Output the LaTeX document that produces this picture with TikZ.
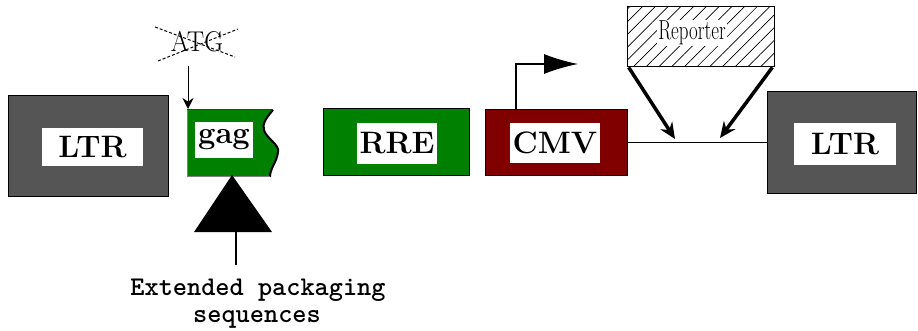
\documentclass[tikz,border=0pt]{standalone}
\usetikzlibrary{arrows.meta,patterns.meta}
\definecolor{ltrgray}{HTML}{555555}
\definecolor{gagreen}{HTML}{008000}
\definecolor{cmvred}{HTML}{800000}
\begin{document}
\begin{tikzpicture}[x=1pt,y=-1pt,
  blk/.style={draw=black, line width=1pt, inner sep=0pt},
  lbl/.style={fill=white, inner sep=0pt, font=\fontsize{31}{31}\selectfont\bfseries},
  thickarrow/.style={line width=3.5pt, -{Stealth[length=16pt,width=14pt]}},
  exttext/.style={font=\fontsize{27}{27}\selectfont\ttfamily\bfseries, anchor=base, inner sep=0pt},
]
\useasboundingbox (0,0) rectangle (918,331);
% left LTR
\node[blk, fill=ltrgray, minimum width=160pt, minimum height=101pt] (ltrL) at (88,146) {};
\node[lbl, minimum width=101pt, minimum height=38pt] (ltrLt) at (92.5,147) {LTR};
% gag
\fill[gagreen] (187,110) -- (273,110) .. controls (266,118) and (262,124) .. (264,130)
  .. controls (266,138) and (280,145) .. (278,152) .. controls (277,162) and (270,168) .. (270,177)
  -- (187,177) -- cycle;
\draw[line width=2pt] (273,110) .. controls (266,118) and (262,124) .. (264,130)
  .. controls (266,138) and (280,145) .. (278,152) .. controls (277,162) and (270,168) .. (270,177);
\draw[gagreen!70!black, line width=1pt] (187,110) -- (273,110);
\draw[black!50, line width=1pt] (187,110) -- (187,177) -- (270,177);
\node[lbl, minimum width=58pt, minimum height=36pt] (gag) at (224,140) {gag};
% ATG
\node[font=\fontsize{26}{26}\selectfont, inner sep=0pt] (atg) at (197,42) {\scalebox{1}[1.1]{ATG}};
\draw[densely dashed, line width=1pt] ([shift={(-42,-15)}]atg.center) -- ([shift={(38,15)}]atg.center);
\draw[densely dashed, line width=1pt] ([shift={(-39,19)}]atg.center) -- ([shift={(41,-13)}]atg.center);
\coordinate (atgfoot) at (188,66);
\coordinate (gagtop) at (188,109);
\draw[line width=1pt, -{Stealth[length=11pt,width=11pt]}] (atgfoot) -- (gagtop);
% triangle and packaging label
\coordinate (tritop) at (232,175);
\fill (tritop) -- (272,232) -- (194,232) -- cycle;
\coordinate (tribase) at (236,232);
\coordinate (extTop) at (236,265);
\draw[line width=1.2pt] (tribase) -- (extTop);
\node[exttext] (ext) at (258,295) {Extended packaging};
\node[exttext] (seq) at (257,322) {sequences};
% RRE
\node[blk, fill=gagreen, minimum width=146pt, minimum height=67pt] (rre) at (396,142.5) {};
\node[lbl, minimum width=80pt, minimum height=41pt] (rret) at (397,143.5) {RRE};
% CMV
\node[blk, fill=cmvred, minimum width=142pt, minimum height=66pt] (cmv) at (556,143) {};
\node[lbl, minimum width=90pt, minimum height=40pt] (cmvt) at (555,143) {CMV};
% promoter arrow
\coordinate (prom) at (578,64);
\draw[line width=1.2pt, -{Latex[length=34pt,width=20pt]}] ([xshift=-40pt]cmv.north) |- (prom);
% right LTR
\node[blk, fill=ltrgray, minimum width=149pt, minimum height=102pt] (ltrR) at (841.5,143) {};
\node[lbl, minimum width=102pt, minimum height=42pt] (ltrRt) at (845,144) {LTR};
% connecting line
\draw[line width=1pt] (cmv.east) -- (ltrR.west);
% reporter
\node[draw=black, line width=1pt, pattern={Lines[angle=45,distance=9pt,line width=0.7pt]}, minimum width=147pt, minimum height=60pt, inner sep=0pt] (rep) at (700.5,37) {};
\node[fill=white, inner sep=1pt, font=\fontsize{19}{19}\selectfont] (rept) at (692,33) {\scalebox{1}[1.45]{Reporter}};
\coordinate (insL) at (675,139);
\coordinate (insR) at (720,138);
\draw[thickarrow] ([xshift=2pt]rep.south west) -- (insL);
\draw[thickarrow] ([xshift=-2pt]rep.south east) -- (insR);
\end{tikzpicture}
\end{document}
